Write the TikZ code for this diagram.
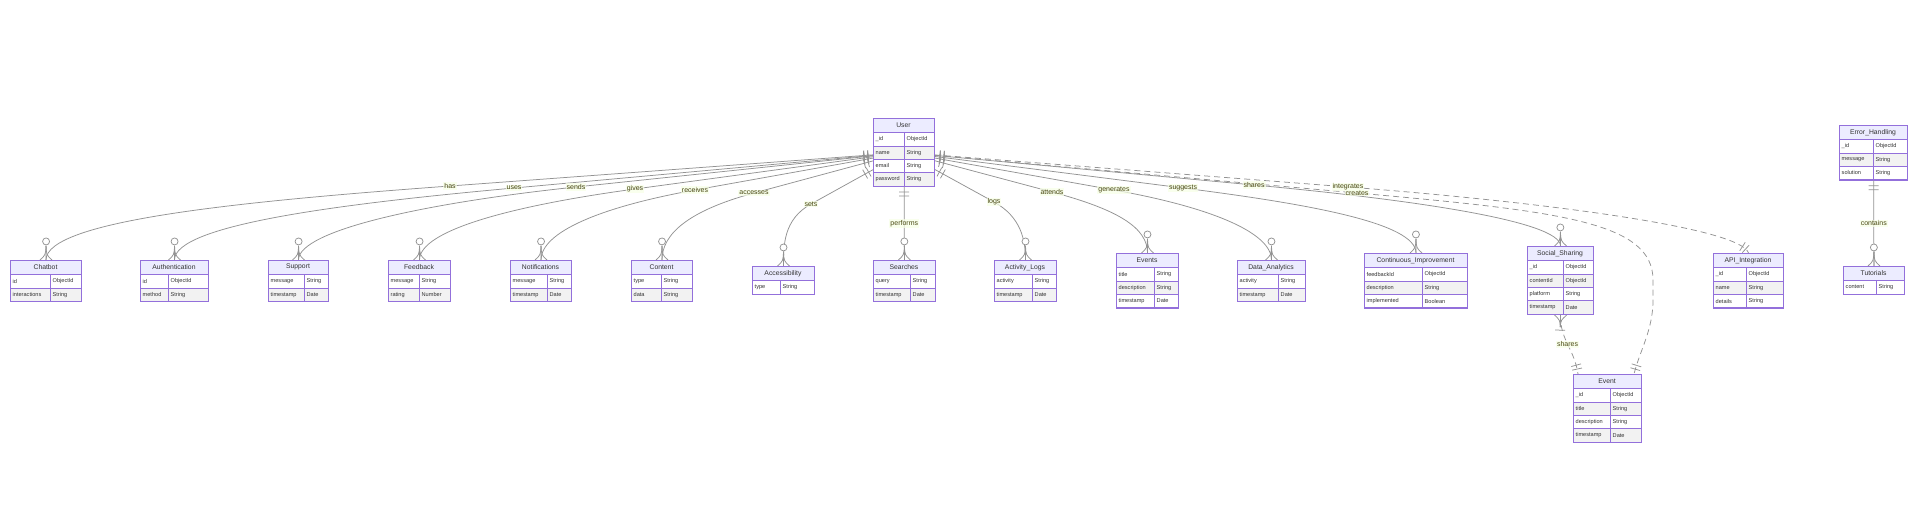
\documentclass[tikz,border=0pt]{standalone}
\usepackage{fontspec}
\setmainfont{Liberation Sans}
\usepackage{tikz}
\usetikzlibrary{arrows.meta, calc, positioning, decorations.markings}
\usepackage{xcolor}

\definecolor{erborder}{HTML}{9370DB}
\definecolor{erhead}{HTML}{ECECFF}
\definecolor{errow}{HTML}{F2F2F2}
\definecolor{ertext}{HTML}{333333}
\definecolor{edgegray}{HTML}{939393}
\definecolor{reltext}{HTML}{4A4A14}
\definecolor{relbg}{HTML}{F7FFE6}

\tikzset{
  ertitle/.style={font=\fontsize{6.8}{7.5}\selectfont, text=ertext, inner sep=0pt},
  erattr/.style={font=\fontsize{5.6}{6.5}\selectfont, text=ertext, anchor=west, inner sep=0pt},
  erbox/.style={draw=erborder, line width=1pt, anchor=north west, inner sep=0pt},
  rel/.style={draw=edgegray, line width=0.75pt},
  reldash/.style={rel, dash pattern=on 6pt off 4pt},
  erbar/.style={draw=edgegray, line width=0.75pt, solid},
  rlabel/.style={font=\fontsize{7}{8}\selectfont, text=reltext, fill=relbg, fill opacity=0.7, text opacity=1, inner sep=1pt},
  onefrom/.style={postaction={decorate, decoration={markings,
      mark=at position 5pt with {\draw[erbar] (0,-5) -- (0,5);},
      mark=at position 9pt with {\draw[erbar] (0,-5) -- (0,5);}}}},
  oneto/.style={postaction={decorate, decoration={markings,
      mark=at position -9pt with {\draw[erbar] (0,-5) -- (0,5);},
      mark=at position -5pt with {\draw[erbar] (0,-5) -- (0,5);}}}},
  manyto/.style={postaction={decorate, decoration={markings,
      mark=at position -0.05pt with {
        \draw[erbar] (-14,0) -- (0,0);
        \draw[erbar] (-14,0) .. controls (-5,0.5) .. (0,6);
        \draw[erbar] (-14,0) .. controls (-5,-0.5) .. (0,-6);
        \draw[erbar, fill=white] (-18.5,0) circle (3.5pt);}}}},
  onemanyfrom/.style={postaction={decorate, decoration={markings,
      mark=at position 0.05pt with {
        \draw[erbar] (12,0) -- (0,0);
        \draw[erbar] (12,0) .. controls (5,0.5) .. (0,6);
        \draw[erbar] (12,0) .. controls (5,-0.5) .. (0,-6);
        \draw[erbar] (15,-5) -- (15,5);}}}}
}

% 实体表格: id, 标题, 左, 上, 分隔, 右, 属性
\newcommand{\erentity}[7]{%
  \fill[erhead] (#3,-#4) rectangle (#6,-#4-14.5);
  \node[ertitle] at ({(#3+#6)/2},{-#4-7.25}) {#2};
  \foreach \attr/\kind [count=\i] in {#7} {
    \pgfmathsetmacro\ytop{#4+14.5+13.4*(\i-1)}
    \ifodd\i\relax \def\rowfill{white}\else \def\rowfill{errow}\fi
    \filldraw[fill=\rowfill, draw=erborder, line width=0.6pt] (#3,-\ytop) rectangle (#5,-\ytop-13.4);
    \filldraw[fill=\rowfill, draw=erborder, line width=0.6pt] (#5,-\ytop) rectangle (#6,-\ytop-13.4);
    \node[erattr] at (#3+2.5,-\ytop-6.7) {\attr};
    \node[erattr] at (#5+2.5,-\ytop-6.7) {\kind};
    \xdef\ernrows{\i}
  }
  \pgfmathsetmacro\erwid{#6-#3}
  \pgfmathsetmacro\erhgt{14.5+13.4*\ernrows}
  \node[erbox, minimum width=\erwid pt, minimum height=\erhgt pt] (#1) at (#3,-#4) {};
}

\begin{document}
\begin{tikzpicture}[x=1pt, y=1pt]
  \useasboundingbox[fill=white] (0,0) rectangle (1920,-521);

  % 实体
  \erentity{User}{User}{873}{118}{904}{934}{\_id/ObjectId, name/String, email/String, password/String}
  \erentity{Chatbot}{Chatbot}{10}{260}{50}{81}{id/ObjectId, interactions/String}
  \erentity{Authentication}{Authentication}{140}{260}{168}{208}{id/ObjectId, method/String}
  \erentity{Support}{Support}{268}{260}{304}{328}{message/String, timestamp/Date}
  \erentity{Feedback}{Feedback}{388}{260}{419}{450}{message/String, rating/Number}
  \erentity{Notifications}{Notifications}{510}{260}{547}{571}{message/String, timestamp/Date}
  \erentity{Content}{Content}{631}{260}{661}{692}{type/String, data/String}
  \erentity{Accessibility}{Accessibility}{752}{266}{780}{814}{type/String}
  \erentity{Searches}{Searches}{873}{260}{910}{935}{query/String, timestamp/Date}
  \erentity{ActivityLogs}{Activity\_Logs}{994}{260}{1032}{1056}{activity/String, timestamp/Date}
  \erentity{Events}{Events}{1116}{253}{1154}{1178}{title/String, description/String, timestamp/Date}
  \erentity{DataAnalytics}{Data\_Analytics}{1237}{260}{1278}{1305}{activity/String, timestamp/Date}
  \erentity{ContImprovement}{Continuous\_Improvement}{1364}{253}{1422}{1467}{feedbackId/ObjectId, description/String, implemented/Boolean}
  \erentity{SocialSharing}{Social\_Sharing}{1527}{246}{1563}{1593}{\_id/ObjectId, contentId/ObjectId, platform/String, timestamp/Date}
  \erentity{APIIntegration}{API\_Integration}{1713}{253}{1746}{1783}{\_id/ObjectId, name/String, details/String}
  \erentity{ErrorHandling}{Error\_Handling}{1839}{125}{1873}{1907}{\_id/ObjectId, message/String, solution/String}
  \erentity{Tutorials}{Tutorials}{1843}{266}{1876}{1904}{content/String}
  \erentity{Event}{Event}{1573}{374}{1610}{1641}{\_id/ObjectId, title/String, description/String, timestamp/Date}

  % 标签位置
  \coordinate (chas) at (450,-186);
  \coordinate (cuses) at (514,-188);
  \coordinate (csends) at (576,-187);
  \coordinate (cgives) at (635,-189);
  \coordinate (creceives) at (695,-190);
  \coordinate (caccesses) at (754,-193);
  \coordinate (csets) at (811,-204);
  \coordinate (clogs) at (994,-202);
  \coordinate (cattends) at (1052,-192);
  \coordinate (cgenerates) at (1114,-190);
  \coordinate (csuggests) at (1183,-188);
  \coordinate (cshares) at (1254,-185);
  \coordinate (cintegrates) at (1348,-187);
  \coordinate (ccreates) at (1357,-193);

  % 左侧关系
  \draw[rel, onefrom, manyto] (User) -- (chas) .. controls ($(chas)!-0.45!(User)$) and ($(Chatbot.north)+(0,40)$) .. (Chatbot.north);
  \draw[rel, onefrom, manyto] (User) -- (cuses) .. controls ($(cuses)!-0.45!(User)$) and ($(Authentication.north)+(0,35)$) .. (Authentication.north);
  \draw[rel, onefrom, manyto] (User) -- (csends) .. controls ($(csends)!-0.45!(User)$) and ($(Support.north)+(0,30)$) .. (Support.north);
  \draw[rel, onefrom, manyto] (User) -- (cgives) .. controls ($(cgives)!-0.45!(User)$) and ($(Feedback.north)+(0,30)$) .. (Feedback.north);
  \draw[rel, onefrom, manyto] (User) -- (creceives) .. controls ($(creceives)!-0.45!(User)$) and ($(Notifications.north)+(0,28)$) .. (Notifications.north);
  \draw[rel, onefrom, manyto] (User) -- (caccesses) .. controls ($(caccesses)!-0.45!(User)$) and ($(Content.north)+(0,25)$) .. (Content.north);
  \draw[rel, onefrom, manyto] (User) -- (csets) .. controls ($(csets)!-0.3!(User)$) and ($(Accessibility.north)+(0,20)$) .. (Accessibility.north);

  % 下方关系
  \draw[rel, onefrom, manyto] (User) -- node[rlabel] (lperforms) {performs} (Searches);

  % 右侧关系
  \draw[rel, onefrom, manyto] (User) -- (clogs) .. controls ($(clogs)!-0.3!(User)$) and ($(ActivityLogs.north)+(0,20)$) .. (ActivityLogs.north);
  \draw[rel, onefrom, manyto] (User) -- (cattends) .. controls ($(cattends)!-0.45!(User)$) and ($(Events.north)+(0,25)$) .. (Events.north);
  \draw[rel, onefrom, manyto] (User) -- (cgenerates) .. controls ($(cgenerates)!-0.45!(User)$) and ($(DataAnalytics.north)+(0,28)$) .. (DataAnalytics.north);
  \draw[rel, onefrom, manyto] (User) -- (csuggests) .. controls ($(csuggests)!-0.45!(User)$) and ($(ContImprovement.north)+(0,30)$) .. (ContImprovement.north);
  \draw[rel, onefrom, manyto] (User) -- (cshares) .. controls ($(cshares)!-0.45!(User)$) and ($(SocialSharing.north)+(0,25)$) .. (SocialSharing.north);
  \draw[reldash, onefrom, oneto] (User) -- (cintegrates) .. controls ($(cintegrates)!-0.45!(User)$) and ($(APIIntegration.north)+(-8,25)$) .. (APIIntegration.north);
  \draw[reldash, onefrom, oneto] (User) -- (ccreates) .. controls ($(ccreates)!-0.45!(User)$) and (1653,-222) .. (1653,-280)
    -- (1653,-300) .. controls (1653,-330) and (1640,-350) .. ($(Event.north east)+(-8,0)$);

  % 其他关系
  \draw[reldash, onemanyfrom, oneto] (SocialSharing.south) .. controls (1560,-340) and (1574,-348) .. node[rlabel] (lsharesevent) {shares} ($(Event.north west)+(5,0)$);
  \draw[rel, onefrom, manyto] (ErrorHandling) -- node[rlabel] (lcontains) {contains} (Tutorials);

  % 关系标签
  \node[rlabel] (lhas) at (chas) {has};
  \node[rlabel] (luses) at (cuses) {uses};
  \node[rlabel] (lsends) at (csends) {sends};
  \node[rlabel] (lgives) at (cgives) {gives};
  \node[rlabel] (lreceives) at (creceives) {receives};
  \node[rlabel] (laccesses) at (caccesses) {accesses};
  \node[rlabel] (lsets) at (csets) {sets};
  \node[rlabel] (llogs) at (clogs) {logs};
  \node[rlabel] (lattends) at (cattends) {attends};
  \node[rlabel] (lgenerates) at (cgenerates) {generates};
  \node[rlabel] (lsuggests) at (csuggests) {suggests};
  \node[rlabel] (lshares) at (cshares) {shares};
  \node[rlabel] (lintegrates) at (cintegrates) {integrates};
  \node[rlabel] (lcreates) at (ccreates) {creates};
\end{tikzpicture}
\end{document}
